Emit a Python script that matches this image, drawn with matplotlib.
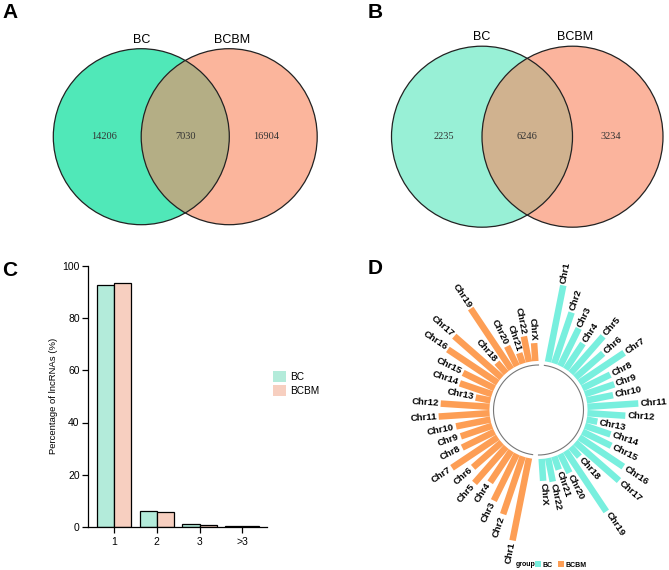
import numpy as np
import matplotlib
matplotlib.use('Agg')
import matplotlib.pyplot as plt
from matplotlib.patches import Circle, Patch

plt.rcParams['font.family'] = ['Liberation Sans', 'DejaVu Sans']

# ---------------- data ----------------
venn_sets = ['BC', 'BCBM']
venn_a_counts = [14206, 7030, 16904]   # BC only, shared, BCBM only
venn_b_counts = [2235, 6246, 3234]

exon_categories = ['1', '2', '3', '>3']
exon_bc = [92.6, 6.2, 1.1, 0.5]
exon_bcbm = [93.5, 5.8, 0.8, 0.4]

chromosomes = ['Chr1', 'Chr2', 'Chr3', 'Chr4', 'Chr5', 'Chr6', 'Chr7', 'Chr8',
               'Chr9', 'Chr10', 'Chr11', 'Chr12', 'Chr13', 'Chr14', 'Chr15',
               'Chr16', 'Chr17', 'Chr18', 'Chr19', 'Chr20', 'Chr21', 'Chr22', 'ChrX']
chr_bc = [78, 54, 42, 31, 49, 37, 54, 31, 31, 27, 51, 38, 11, 27, 32, 53, 58, 13, 73, 21, 14, 24, 22]
chr_bcbm = [84, 61, 52, 38, 48, 38, 55, 36, 33, 35, 51, 49, 15, 34, 35, 60, 63, 14, 73, 22, 11, 26, 18]

# ---------------- figure ----------------
W, H = 669, 570
fig = plt.figure(figsize=(W / 100, H / 100), dpi=100)

ov = fig.add_axes([0, 0, 1, 1])
ov.set_xlim(0, W)
ov.set_ylim(H, 0)
ov.axis('off')


def venn(ax, cx1, cx2, cy, r, counts, cols, lab_y):
    c_left, c_right, c_mid = cols
    ax.add_patch(Circle((cx1, cy), r, facecolor=c_left, edgecolor='none'))
    ax.add_patch(Circle((cx2, cy), r, facecolor=c_right, edgecolor='none'))
    clip = Circle((cx1, cy), r, transform=ax.transData)
    lens = Circle((cx2, cy), r, facecolor=c_mid, edgecolor='none')
    ax.add_patch(lens)
    lens.set_clip_path(clip)
    for cx in (cx1, cx2):
        ax.add_patch(Circle((cx, cy), r, facecolor='none', edgecolor='#222222', lw=0.9))
    xs = [cx1 - r * 0.42, (cx1 + cx2) / 2, cx2 + r * 0.42]
    for x, n in zip(xs, counts):
        ax.text(x, cy, str(n), ha='center', va='center', fontsize=7.5,
                family='Liberation Serif', color='#333333')
    ax.text(cx1, lab_y, venn_sets[0], ha='center', va='center', fontsize=9)
    ax.text(cx2 + 3, lab_y, venn_sets[1], ha='center', va='center', fontsize=9)


venn(ov, 141.3, 229.2, 136.7, 88, venn_a_counts, ('#50E8B8', '#FBB59C', '#B4AE85'), 40)
venn(ov, 482, 572.5, 136.7, 90.5, venn_b_counts, ('#98F0D6', '#FBB49D', '#D0B28F'), 36.7)

for lab, x, y in [('A', 2, 13), ('B', 368, 13), ('C', 2, 270), ('D', 368, 269)]:
    ov.text(x, y, lab, fontsize=15, fontweight='bold', ha='left', va='center')

# ---------------- panel C ----------------
axc = fig.add_axes([88 / W, (H - 527) / H, 179 / W, 261.25 / H])
xpos = np.arange(len(exon_categories))
bw = 0.4
col_bc, col_bcbm = '#B3EBDA', '#F7CFC0'
axc.bar(xpos - bw / 2, exon_bc, bw, color=col_bc, edgecolor='black', lw=0.9, label='BC')
axc.bar(xpos + bw / 2, exon_bcbm, bw, color=col_bcbm, edgecolor='black', lw=0.9, label='BCBM')
axc.set_xlim(-0.61, 3.58)
axc.set_ylim(0, 100)
axc.set_yticks([0, 20, 40, 60, 80, 100])
axc.set_xticks(xpos)
axc.set_xticklabels(exon_categories)
for s in ['top', 'right']:
    axc.spines[s].set_visible(False)
for s in ['left', 'bottom']:
    axc.spines[s].set_linewidth(0.9)
axc.tick_params(axis='both', length=4, width=0.9, labelsize=7.5)
axc.tick_params(axis='y', pad=2)
axc.tick_params(axis='x', pad=3.5)
axc.set_ylabel('Percentage of lncRNAs (%)', fontsize=6.8, labelpad=3)
handles = [Patch(facecolor=col_bc, edgecolor='none'), Patch(facecolor=col_bcbm, edgecolor='none')]
fig.legend(handles, ['BC', 'BCBM'], loc='upper left',
           bbox_to_anchor=(273 / W, 1 - 371 / H), frameon=False, fontsize=7.3,
           handlelength=1.3, handleheight=1.3, handletextpad=0.4, labelspacing=0.25,
           borderpad=0, borderaxespad=0)

# ---------------- panel D ----------------
cx, cy, R = 538.5, 410, 140
axd = fig.add_axes([(cx - R) / W, (H - cy - R) / H, 2 * R / W, 2 * R / H], projection='polar')
axd.set_theta_zero_location('N')
axd.set_theta_direction(-1)
axd.set_ylim(0, R)
axd.axis('off')
axd.patch.set_alpha(0)

n = len(chromosomes)
nslots = 2 * n + 2
step = 2 * np.pi / nslots
idx_bc = np.arange(1, n + 1)
idx_bcbm = np.arange(n + 2, 2 * n + 2)
th_bc = (idx_bc + 0.5) * step
th_bcbm = (idx_bcbm + 0.5) * step
base = 49
c_bc, c_bcbm = '#78EFDE', '#FD9E55'

for th, vals, col in [(th_bc, chr_bc, c_bc), (th_bcbm, chr_bcbm, c_bcbm)]:
    vals = np.asarray(vals, float)
    axd.vlines(th, base, base + vals, colors=col, lw=4.7)
    arc = np.linspace(th[0] - step / 2, th[-1] + step / 2, 200)
    axd.plot(arc, np.full_like(arc, 45), color='#777777', lw=0.8)
    for t, v, name in zip(th, vals, chromosomes):
        deg = np.degrees(t)
        rot = 90 - deg
        if deg < 180:
            ha = 'left'
        else:
            ha = 'right'
            rot += 180
        axd.text(t, base + v + 2, name, rotation=rot, rotation_mode='anchor',
                 ha=ha, va='center', fontsize=6.8, fontweight='bold', clip_on=False)

ov.text(516, 565, 'group', fontsize=5, fontweight='bold', ha='left', va='center')
hd = [Patch(facecolor=c_bc, edgecolor='none'), Patch(facecolor=c_bcbm, edgecolor='none')]
fig.legend(hd, ['BC', 'BCBM'], loc='center left', bbox_to_anchor=(535 / W, 1 - 565 / H),
           ncol=2, frameon=False, prop={'size': 5, 'weight': 'bold'},
           handlelength=0.8, handleheight=0.8, handletextpad=0.3, columnspacing=0.8,
           borderpad=0, borderaxespad=0)

fig.savefig('out.png', dpi=100)
